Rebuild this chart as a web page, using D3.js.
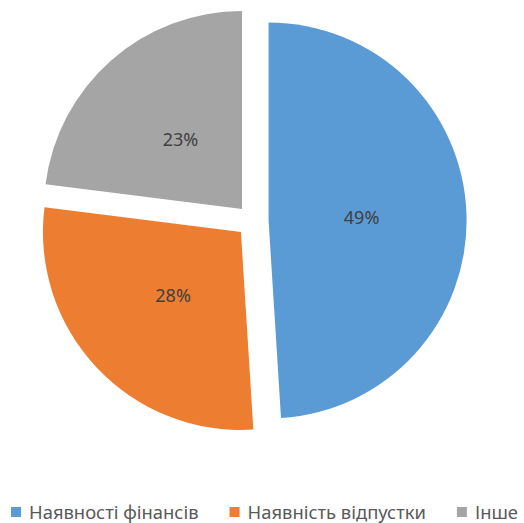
<!DOCTYPE html>
<html>
<head>
<meta charset="utf-8">
<script src="https://cdn.jsdelivr.net/npm/d3@7"></script>
<style>
  body { margin: 0; background: #fff; }
  text { font-family: "Noto Sans", "Open Sans", sans-serif; }
</style>
</head>
<body>
<div id="chart"></div>
<script>
// data
var categories = ["Наявності фінансів", "Наявність відпустки", "Інше"];
var values = [49, 28, 23];
var colors = ["#5B9BD5", "#ED7D31", "#A5A5A5"];

var svg = d3.select("#chart").append("svg")
  .attr("width", 524)
  .attr("height", 523);

var cx = 252.6, cy = 221, radius = 198, explode = 16;

var pie = d3.pie().sort(null).value(function(d) { return d; });
var arc = d3.arc().innerRadius(0).outerRadius(radius);
var labelArc = d3.arc().innerRadius(0).outerRadius(radius * 0.94);

var g = svg.append("g").attr("transform", "translate(" + cx + "," + cy + ")");

var slices = g.selectAll(".slice")
  .data(pie(values))
  .enter().append("g")
  .attr("class", "slice")
  .attr("transform", function(d) {
    var a = (d.startAngle + d.endAngle) / 2;
    return "translate(" + (explode * Math.sin(a)) + "," + (-explode * Math.cos(a)) + ")";
  });

slices.append("path")
  .attr("d", arc)
  .style("fill", function(d, i) { return colors[i]; });

slices.append("text")
  .attr("transform", function(d) { return "translate(" + labelArc.centroid(d) + ")"; })
  .attr("text-anchor", "middle")
  .attr("dy", "0.35em")
  .style("font-size", "18px")
  .style("fill", "#404040")
  .text(function(d) { return d.value + "%"; });

// legend
var legend = svg.append("g").attr("transform", "translate(11,507)");
var xPos = 0;
categories.forEach(function(c, i) {
  var item = legend.append("g").attr("transform", "translate(" + xPos + ",0)");
  item.append("rect")
    .attr("width", 10).attr("height", 10)
    .style("fill", colors[i]);
  var t = item.append("text")
    .attr("x", 18).attr("y", 11.5)
    .style("font-size", "18.4px")
    .style("fill", "#595959")
    .text(c);
  xPos += 18 + t.node().getComputedTextLength() + 31;
});
</script>
</body>
</html>
